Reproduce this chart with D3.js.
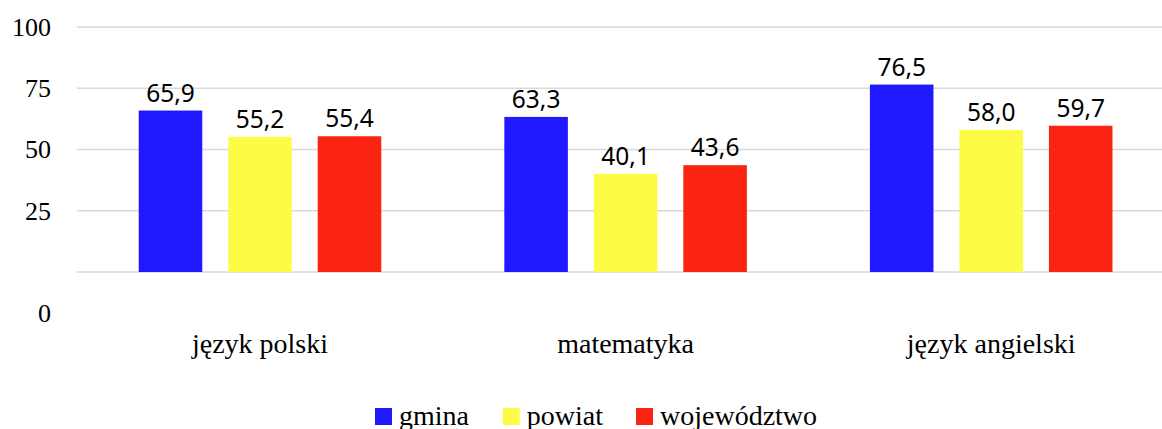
<!DOCTYPE html>
<html><head><meta charset="utf-8">
<script src="https://cdn.jsdelivr.net/npm/d3@7"></script>
<style>
body{margin:0;background:#fff;}svg{display:block;}
.serif{font-family:"Liberation Serif","Tinos","Times New Roman","DejaVu Serif",serif;}
.sans{font-family:"Noto Sans","Open Sans",sans-serif;}
</style>
</head><body>
<svg id="chart" width="1162" height="429"></svg>
<script>
const categories = ["język polski", "matematyka", "język angielski"];
const seriesNames = ["gmina", "powiat", "województwo"];
const gmina = [65.9, 63.3, 76.5];
const powiat = [55.2, 40.1, 58.0];
const wojewodztwo = [55.4, 43.6, 59.7];
const yTicks = [0, 25, 50, 75, 100];
const colors = ["#2019FF", "#FCFC47", "#FB2311"];

const seriesValues = [gmina, powiat, wojewodztwo];
const svg = d3.select("#chart");
const W = 1162;
const y = d3.scaleLinear().domain([0, 100]).range([272, 27]);
const x0 = d3.scaleBand().domain(categories).range([77.2, 1174]).paddingInner(0).paddingOuter(0);
const clusterW = 268.5;
const off = (x0.bandwidth() - clusterW) / 2;
const x1 = d3.scaleBand().domain(seriesNames).range([off, off + clusterW]).paddingInner(0.29).paddingOuter(0.145);

svg.append("g").selectAll("line").data(yTicks).join("line")
  .attr("x1", 77).attr("x2", W)
  .attr("y1", d => y(d)).attr("y2", d => y(d))
  .attr("stroke", "#d9d9d9").attr("stroke-width", 1.6);

svg.append("g").selectAll("text").data(yTicks).join("text")
  .attr("class", "serif")
  .attr("x", 51)
  .attr("y", d => d === 0 ? y(d) + 41 : y(d))
  .attr("dy", "0.34em")
  .attr("text-anchor", "end")
  .attr("font-size", 26)
  .attr("fill", "#000")
  .text(d => d);

const groups = svg.append("g").selectAll("g").data(categories).join("g")
  .attr("transform", d => `translate(${x0(d)},0)`);
groups.each(function(cat, ci) {
  const g = d3.select(this);
  const data = seriesNames.map((s, si) => ({s, si, v: seriesValues[si][ci]}));
  g.selectAll("rect").data(data).join("rect")
    .attr("x", d => x1(d.s)).attr("width", x1.bandwidth())
    .attr("y", d => y(d.v)).attr("height", d => y(0) - y(d.v))
    .attr("fill", d => colors[d.si]);
  g.selectAll("text").data(data).join("text")
    .attr("class", "sans")
    .attr("x", d => x1(d.s) + x1.bandwidth() / 2)
    .attr("y", d => y(d.v) - 9)
    .attr("text-anchor", "middle")
    .attr("font-size", 24.5)
    .attr("fill", "#000")
    .text(d => d.v.toFixed(1).replace(".", ","));
});

svg.append("g").selectAll("text").data(categories).join("text")
  .attr("class", "serif")
  .attr("x", d => x0(d) + x0.bandwidth() / 2)
  .attr("y", 353)
  .attr("text-anchor", "middle")
  .attr("font-size", 28)
  .attr("fill", "#000")
  .text(d => d);

const legendX = [375, 502.7, 636];
const lg = svg.append("g").selectAll("g").data(seriesNames).join("g")
  .attr("transform", (d, i) => `translate(${legendX[i]},408)`);
lg.append("rect").attr("width", 17).attr("height", 17).attr("fill", (d, i) => colors[i]);
lg.append("text").attr("class", "serif").attr("x", 24).attr("y", 16.5)
  .attr("font-size", 28).attr("fill", "#000")
  .text(d => d);
</script>
</body></html>
